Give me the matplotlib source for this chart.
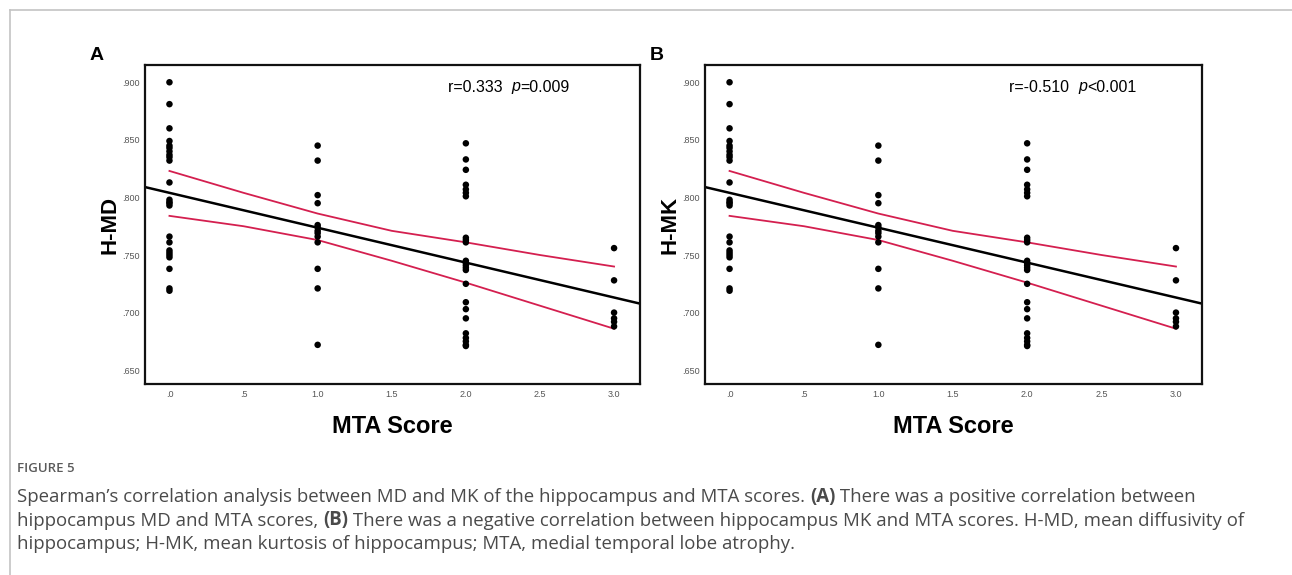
import numpy as np
import matplotlib
matplotlib.use('Agg')
import matplotlib.pyplot as plt
from matplotlib.lines import Line2D
from matplotlib.ticker import FuncFormatter, MultipleLocator

W, H = 1292, 575

# --- Data (same points drawn in both panels) ---
MTA_LEVELS = [0, 1, 2, 3]
VALUES_MTA0 = [0.900, 0.881, 0.860, 0.849, 0.845, 0.843, 0.840, 0.837, 0.835,
               0.832, 0.813, 0.798, 0.796, 0.795, 0.793, 0.766, 0.761, 0.754,
               0.752, 0.750, 0.748, 0.738, 0.721, 0.719]
VALUES_MTA1 = [0.845, 0.832, 0.802, 0.795, 0.776, 0.774, 0.771, 0.769, 0.766,
               0.761, 0.738, 0.721, 0.672]
VALUES_MTA2 = [0.847, 0.833, 0.824, 0.811, 0.807, 0.804, 0.801, 0.765, 0.763,
               0.761, 0.745, 0.743, 0.741, 0.739, 0.737, 0.725, 0.709, 0.703,
               0.695, 0.682, 0.678, 0.675, 0.672, 0.671]
VALUES_MTA3 = [0.756, 0.728, 0.700, 0.695, 0.692, 0.688]

# fit line and 95% CI band (read at these scores)
FIT_INTERCEPT = 0.804
FIT_SLOPE = -0.0303
CI_X = [0.0, 0.5, 1.0, 1.5, 2.0, 2.5, 3.0]
CI_UPPER = [0.823, 0.804, 0.786, 0.771, 0.761, 0.750, 0.740]
CI_LOWER = [0.784, 0.775, 0.763, 0.745, 0.726, 0.706, 0.686]

PANELS = [
    {"letter": "A", "ylabel": "H-MD", "r": "r=0.333  ", "p": "=0.009"},
    {"letter": "B", "ylabel": "H-MK", "r": "r=-0.510  ", "p": "<0.001"},
]

CAPTION_LINES = [
    [("Spearman\u2019s correlation analysis between MD and MK of the hippocampus and MTA scores. ", "normal"),
     ("(A)", "bold"), (" There was a positive correlation between", "normal")],
    [("hippocampus MD and MTA scores, ", "normal"), ("(B)", "bold"),
     (" There was a negative correlation between hippocampus MK and MTA scores. H-MD, mean diffusivity of", "normal")],
    [("hippocampus; H-MK, mean kurtosis of hippocampus; MTA, medial temporal lobe atrophy.", "normal")],
]

RED = '#d41f4f'
SANS = 'Liberation Sans'


def fmt_tick(decimals):
    def f(v, pos):
        s = f"{v:.{decimals}f}"
        return s[1:] if s.startswith("0") else s
    return FuncFormatter(f)


def put_runs(fig, x_px, y_px, runs, **kw):
    renderer = fig.canvas.get_renderer()
    x = x_px
    for s, weight in runs:
        t = fig.text(x / W, 1 - y_px / H, s, fontweight=weight, va='center', **kw)
        x += t.get_window_extent(renderer).width


def draw_panel(fig, left_px, width_px, panel):
    top_px, bottom_px = 65, 384
    ax = fig.add_axes([left_px / W, 1 - bottom_px / H,
                       width_px / W, (bottom_px - top_px) / H])
    columns = [VALUES_MTA0, VALUES_MTA1, VALUES_MTA2, VALUES_MTA3]
    for lvl, vals in zip(MTA_LEVELS, columns):
        ax.scatter([lvl] * len(vals), vals, s=22, color='black',
                   edgecolors='none', zorder=3)
    ax.plot(CI_X, CI_UPPER, color=RED, lw=1.3, zorder=2)
    ax.plot(CI_X, CI_LOWER, color=RED, lw=1.3, zorder=2)
    ax.axline((0, FIT_INTERCEPT), slope=FIT_SLOPE, color='black', lw=1.8, zorder=2)

    ax.set_xlim(-0.165, 3.175)
    ax.set_ylim(0.638, 0.915)
    ax.xaxis.set_major_locator(MultipleLocator(0.5))
    ax.yaxis.set_major_locator(MultipleLocator(0.05))
    ax.xaxis.set_major_formatter(fmt_tick(1))
    ax.yaxis.set_major_formatter(fmt_tick(3))
    ax.tick_params(length=0, labelsize=6.5, labelcolor='#555555', pad=4)
    for sp in ax.spines.values():
        sp.set_linewidth(1.6)
        sp.set_color('#111111')

    ax.set_xlabel("MTA Score", fontsize=17, fontweight='bold', labelpad=12)
    ax.set_ylabel(panel["ylabel"], fontsize=16, fontweight='bold', labelpad=1)

    # statistics label
    renderer = fig.canvas.get_renderer()
    x = left_px + 0.612 * width_px
    for s, st in [(panel["r"], 'normal'), ("p", 'italic'), (panel["p"], 'normal')]:
        t = fig.text(x / W, 1 - 87 / H, s, fontsize=11.5, style=st, va='center')
        x += t.get_window_extent(renderer).width

    fig.text((left_px - 48) / W, 1 - 55 / H, panel["letter"], fontsize=14,
             fontweight='bold', ha='center', va='center')
    return ax


plt.rcParams['font.family'] = [SANS, 'DejaVu Sans']
fig = plt.figure(figsize=(W / 100, H / 100), dpi=100, facecolor='white')

draw_panel(fig, 145, 495, PANELS[0])
draw_panel(fig, 705, 497, PANELS[1])

# page border
fig.add_artist(Line2D([10 / W, 1], [1 - 10 / H, 1 - 10 / H], color='#c4c4c4', lw=1.2))
fig.add_artist(Line2D([10 / W, 10 / W], [0, 1 - 10 / H], color='#c4c4c4', lw=1.2))

# caption
fig.text(17 / W, 1 - 469 / H, "FIGURE 5", fontsize=9.5, fontweight='semibold',
         color='#5a5a5a', family='Open Sans', va='center')
for i, runs in enumerate(CAPTION_LINES):
    put_runs(fig, 17, 497 + i * 23.5, runs, fontsize=13.4, color='#4a4a4a',
             family='Open Sans')

fig.savefig("out.png", dpi=100, facecolor='white')
